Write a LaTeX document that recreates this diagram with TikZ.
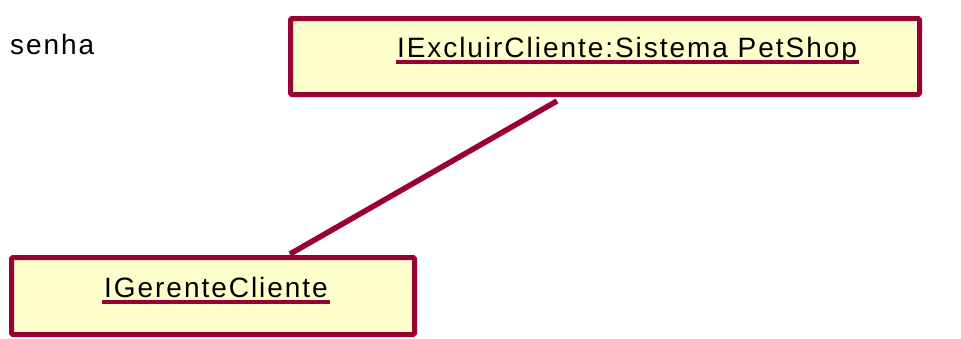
\documentclass[tikz,border=0pt]{standalone}
\usepackage{fontspec}
\setmainfont{Liberation Sans}
\newfontfamily\lblfont[LetterSpace=7]{Liberation Sans}
\definecolor{umlred}{RGB}{153,0,51}
\definecolor{umlfill}{RGB}{255,255,204}
\pgfdeclarelayer{bg}
\pgfsetlayers{bg,main}
\begin{document}
\begin{tikzpicture}[x=1pt,y=-1pt,
  box/.style={draw=umlred, line width=5pt, fill=umlfill, rounded corners=1.5pt, inner sep=0pt},
  lbl/.style={inner sep=0pt, font=\lblfont\fontsize{28}{32}\selectfont, text=black},
  uline/.style={draw=umlred, line width=4pt},
  conn/.style={draw=umlred, line width=5.5pt}]
\useasboundingbox (0,0) rectangle (961,338);
\node[lbl, anchor=base west] (pw) at (10,54) {senha};
\node[box, minimum width=629pt, minimum height=76pt] (b1) at (605,56.5) {};
\node[box, minimum width=403pt, minimum height=77pt] (b2) at (213,296) {};
\begin{pgfonlayer}{bg}
\draw[conn] ([xshift=-48pt,yshift=-4pt]b1.south) -- ([xshift=77pt,yshift=1pt]b2.north);
\end{pgfonlayer}
\node[lbl, anchor=base] (t1) at (627,57) {IExcluirCliente:Sistema PetShop};
\node[lbl, anchor=base] (t2) at (216,297) {IGerenteCliente};
\draw[uline] ([xshift=-1pt,yshift=-5pt]t1.base west) -- ([xshift=2pt,yshift=-5pt]t1.base east);
\draw[uline] ([xshift=-2pt,yshift=-5pt]t2.base west) -- ([xshift=2pt,yshift=-5pt]t2.base east);
\end{tikzpicture}
\end{document}
